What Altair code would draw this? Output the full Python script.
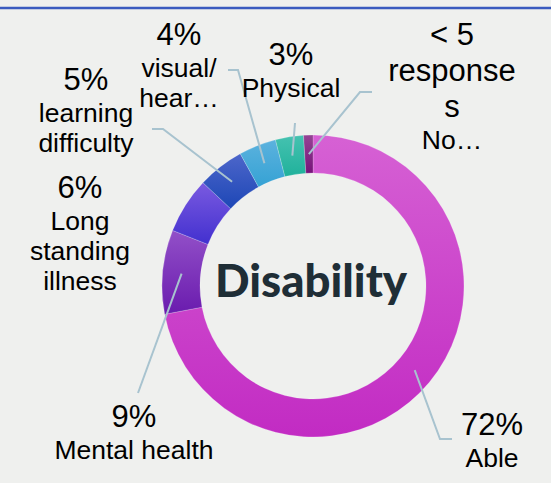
import math
import altair as alt
import pandas as pd

# ---------------- data ----------------
CATEGORIES = ["Able", "Mental health", "Long standing illness", "learning difficulty",
              "visual/ hear…", "Physical", "No…"]
VALUES = [72, 9, 6, 5, 4, 3, 1]
VALUE_LABELS = ["72%", "9%", "6%", "5%", "4%", "3%", "< 5\nresponse\ns"]
NAME_LABELS = ["Able", "Mental health", "Long\nstanding\nillness", "learning\ndifficulty",
               "visual/\nhear…", "Physical", "No…"]
CENTER_TITLE = "Disability"

# ---------------- styling / layout ----------------
W, H = 551, 483
CX, CY = 313, 286
R_OUT, R_IN = 151, 113
R_LEADER = 132
GRADS = [("#d661d4", "#c22bc3"), ("#9250c8", "#6a1bae"), ("#7a5ae0", "#4230cf"),
         ("#4d66ca", "#1d47b6"), ("#5cb2de", "#35a2d4"), ("#45c2b0", "#20b19b"),
         ("#944494", "#77127a")]
# label anchor: centre x and first value-line baseline
LABEL_X = [492, 134, 80, 86, 179, 291, 452]
LABEL_Y = [435, 427, 198, 90, 45, 65, 45]
# leader line elbow / end points (None = no leader)
LEADER = [[(440, 439), (452, 439)], [(138, 393)], None, [(163, 129), (152, 129)],
          [(238, 70), (228, 70)], [(295, 123)], [(360, 92), (372, 92)]]
FONT = "Liberation Sans"
LEADER_COLOR = "#a8c3cf"

total = sum(VALUES)
starts, ends, acc = [], [], 0
for v in VALUES:
    starts.append(acc)
    acc += v
    ends.append(acc)

arcs = pd.DataFrame({"cat": CATEGORIES, "value": VALUES, "start": starts, "end": ends})

layers = []
# top blue rule
layers.append(alt.Chart(pd.DataFrame({"a": [0]})).mark_rule(color="#3a5bbf", strokeWidth=2.6)
              .encode(x=alt.value(0), x2=alt.value(W), y=alt.value(8)))

theta_scale = alt.Scale(domain=[0, total])
for i, cat in enumerate(CATEGORIES):
    top, bot = GRADS[i]
    grad = alt.Gradient(gradient="linear", x1=0, x2=0, y1=0, y2=1,
                        stops=[alt.GradientStop(color=top, offset=0),
                               alt.GradientStop(color=bot, offset=1)])
    layers.append(
        alt.Chart(arcs).transform_filter(alt.datum.cat == cat)
        .mark_arc(innerRadius=R_IN, outerRadius=R_OUT, color=grad,
                  stroke="#ffffff", strokeWidth=0.4, strokeOpacity=0.5)
        .encode(theta=alt.Theta("start:Q", scale=theta_scale), theta2="end:Q",
                x=alt.value(CX), y=alt.value(CY))
    )

# leader lines: start at the slice's mid-angle inside the ring
rows = []
for i, pts in enumerate(LEADER):
    if pts is None:
        continue
    mid = (starts[i] + ends[i]) / 2 / total * 2 * math.pi
    sx = CX + R_LEADER * math.sin(mid)
    sy = CY - R_LEADER * math.cos(mid)
    rows.append({"id": i, "o": 0, "px": sx, "py": sy})
    for k, (px, py) in enumerate(pts):
        rows.append({"id": i, "o": k + 1, "px": px, "py": py})
leaders = pd.DataFrame(rows)
layers.append(
    alt.Chart(leaders).mark_line(color=LEADER_COLOR, strokeWidth=2)
    .encode(x=alt.X("px:Q", scale=None), y=alt.Y("py:Q", scale=None),
            detail="id:N", order="o:Q")
)

labels = pd.DataFrame({
    "vl": [s.split("\n") for s in VALUE_LABELS],
    "nl": [s.split("\n") for s in NAME_LABELS],
    "lx": LABEL_X,
    "vy": LABEL_Y,
    "ny": [y + (len(s.split("\n")) - 1) * 36 + 32 for y, s in zip(LABEL_Y, VALUE_LABELS)],
})
layers.append(
    alt.Chart(labels).mark_text(font=FONT, fontSize=31, lineHeight=36, align="center",
                                baseline="alphabetic", color="#000000")
    .encode(x=alt.X("lx:Q", scale=None), y=alt.Y("vy:Q", scale=None), text="vl")
)
layers.append(
    alt.Chart(labels).mark_text(font=FONT, fontSize=26.5, lineHeight=30, align="center",
                                baseline="alphabetic", color="#000000")
    .encode(x=alt.X("lx:Q", scale=None), y=alt.Y("ny:Q", scale=None), text="nl")
)
layers.append(
    alt.Chart(pd.DataFrame({"t": [CENTER_TITLE]})).mark_text(
        font="Lato", fontSize=45.5, fontWeight=900, align="center", baseline="alphabetic",
        color="#1f2e36")
    .encode(x=alt.value(311), y=alt.value(297), text="t:N")
)

chart = alt.layer(*layers).properties(
    width=W, height=H, background="#eff0ee", padding=0,
    autosize=alt.AutoSizeParams(type="none"),
).configure_view(stroke=None)

chart.save("out.html", embed_options={"renderer": "svg", "actions": False})
